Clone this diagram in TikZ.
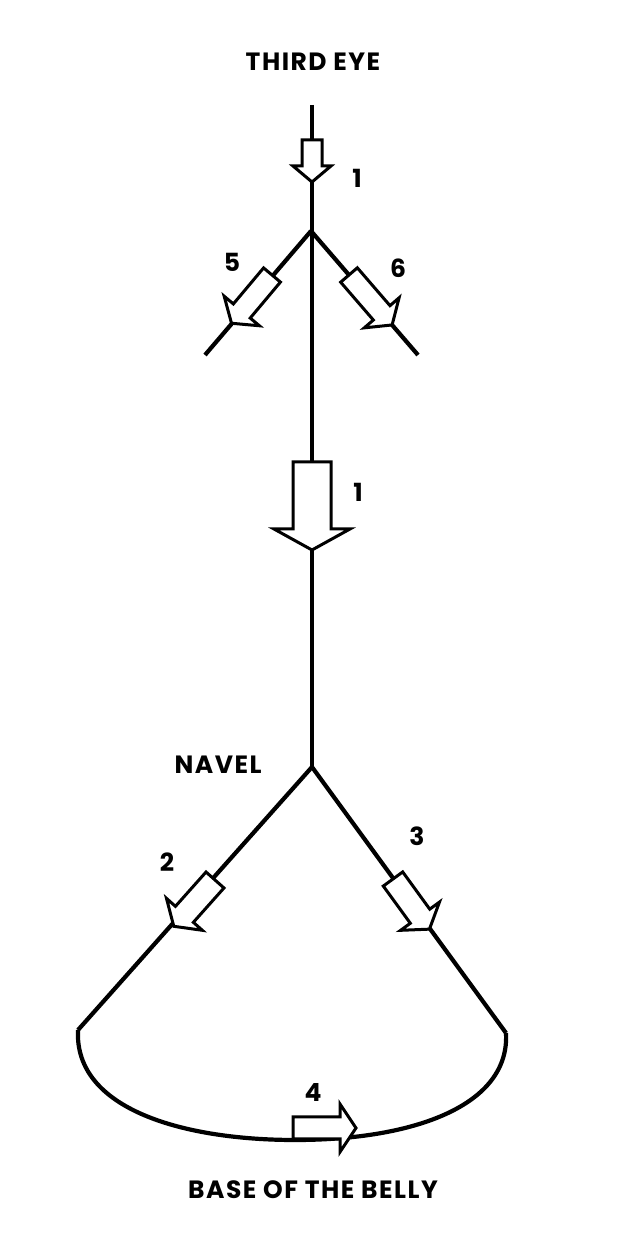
\documentclass[tikz,border=0pt]{standalone}
\usepackage{fontspec}
\setmainfont[LetterSpace=6]{Poppins}
\newcommand\blockarr[7]{%
  \begin{scope}[shift={(#1,#2)},rotate=#3]
    \draw[blkarrow] (0,-#5) -- ({#4-#7},-#5) -- ({#4-#7},-#6) -- (#4,0) -- ({#4-#7},#6) -- ({#4-#7},#5) -- (0,#5) -- cycle;
  \end{scope}}
\begin{document}
\begin{tikzpicture}[x=1pt,y=1pt,
  wire/.style={line width=4.2pt},
  blkarrow/.style={line width=3pt,fill=white,line join=miter},
  lbl/.style={font=\fontsize{25}{25}\selectfont\bfseries,inner sep=0pt}]
\useasboundingbox (0,0) rectangle (642,1235);
\coordinate (top) at (312,1130);
\coordinate (eye) at (311,1004);
\coordinate (l5) at (205,880);
\coordinate (r6) at (418,880);
\coordinate (navel) at (312,468);
\coordinate (L) at (78,205);
\coordinate (R) at (506,202);
\coordinate (B) at (295,95);
\draw[wire] (top) -- (navel);
\draw[wire] (eye) -- (l5);
\draw[wire] (eye) -- (r6);
\draw[wire] (navel) -- (L);
\draw[wire] (navel) -- (R);
\draw[wire] (L) .. controls (74,125) and (185,95) .. (B) .. controls (415,95) and (510,130) .. (R);
% arrows
\blockarr{312}{1095}{-90}{42}{10}{19}{16}
\blockarr{312}{773}{-90}{88}{19}{38}{21}
\blockarr{272}{960}{-130}{63}{11}{23}{16}
\blockarr{349}{960}{-49.2}{66}{11}{23}{16}
\blockarr{215}{355}{-131.7}{62}{12}{24}{16}
\blockarr{393}{356}{-54}{62}{12}{24}{16}
\blockarr{293}{107}{0}{63}{11}{24}{16}
% labels
\node[lbl] (thirdeye) at (313,1173) {THIRD EYE};
\node[lbl] (one) at (357,1057) {1};
\node[lbl] (five) at (232,973) {5};
\node[lbl] (six) at (398,967) {6};
\node[lbl] (onebig) at (358,743) {1};
\node[lbl] (navlbl) at (218,470) {NAVEL};
\node[lbl] (two) at (167,373) {2};
\node[lbl] (three) at (417,399) {3};
\node[lbl] (four) at (313,142) {4};
\node[lbl] (base) at (313,45) {BASE OF THE BELLY};
\end{tikzpicture}
\end{document}
